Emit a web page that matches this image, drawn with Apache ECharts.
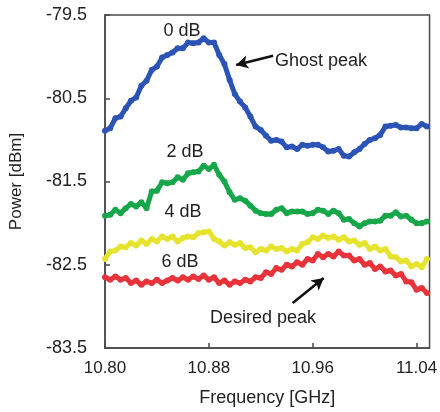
<!DOCTYPE html>
<html>
<head>
<meta charset="utf-8">
<script src="https://cdn.jsdelivr.net/npm/echarts@6/dist/echarts.min.js"></script>
<style>
  html, body { margin: 0; padding: 0; background: #fff; }
  #chart { width: 440px; height: 412px; }
</style>
</head>
<body>
<div id="chart"></div>
<script>
// frequency samples [GHz], step 0.004
const freqStart = 10.80
const freqStep = 0.004
const freqCount = 63
// measured power [dBm] for each attenuation
const power0dB = [-80.89, -80.86, -80.74, -80.72, -80.62, -80.53, -80.49, -80.35, -80.29, -80.16, -80.12, -80.01, -79.98, -79.95, -79.90, -79.90, -79.83, -79.84, -79.83, -79.78, -79.83, -79.83, -79.98, -80.09, -80.28, -80.45, -80.54, -80.61, -80.72, -80.84, -80.88, -80.95, -81.01, -81.00, -81.02, -81.09, -81.08, -81.11, -81.06, -81.07, -81.06, -81.06, -81.09, -81.14, -81.13, -81.11, -81.19, -81.20, -81.15, -81.11, -81.05, -81.00, -80.98, -80.94, -80.84, -80.83, -80.82, -80.85, -80.85, -80.86, -80.86, -80.81, -80.84]
const power2dB = [-81.91, -81.90, -81.84, -81.88, -81.82, -81.77, -81.80, -81.75, -81.82, -81.62, -81.61, -81.51, -81.52, -81.51, -81.45, -81.48, -81.40, -81.39, -81.38, -81.31, -81.35, -81.30, -81.42, -81.50, -81.63, -81.72, -81.70, -81.73, -81.79, -81.85, -81.88, -81.89, -81.89, -81.84, -81.82, -81.88, -81.86, -81.86, -81.86, -81.89, -81.88, -81.84, -81.85, -81.89, -81.85, -81.88, -81.96, -81.95, -82.00, -82.04, -82.00, -81.98, -81.98, -81.97, -81.91, -81.91, -81.87, -81.92, -81.91, -81.96, -82.00, -82.00, -81.98]
const power4dB = [-82.43, -82.34, -82.33, -82.28, -82.29, -82.24, -82.27, -82.21, -82.25, -82.19, -82.22, -82.16, -82.19, -82.16, -82.22, -82.18, -82.16, -82.17, -82.12, -82.11, -82.10, -82.19, -82.22, -82.27, -82.23, -82.26, -82.24, -82.30, -82.29, -82.35, -82.31, -82.33, -82.28, -82.31, -82.30, -82.34, -82.31, -82.33, -82.25, -82.23, -82.17, -82.19, -82.15, -82.18, -82.16, -82.20, -82.17, -82.22, -82.21, -82.26, -82.24, -82.31, -82.28, -82.33, -82.31, -82.40, -82.41, -82.46, -82.45, -82.52, -82.49, -82.53, -82.43]
const power6dB = [-82.65, -82.68, -82.64, -82.68, -82.66, -82.72, -82.69, -82.74, -82.70, -82.72, -82.68, -82.72, -82.69, -82.66, -82.69, -82.65, -82.68, -82.64, -82.67, -82.63, -82.68, -82.65, -82.72, -82.69, -82.74, -82.70, -82.72, -82.68, -82.70, -82.65, -82.66, -82.59, -82.61, -82.54, -82.56, -82.50, -82.52, -82.47, -82.50, -82.43, -82.45, -82.37, -82.41, -82.37, -82.40, -82.34, -82.39, -82.39, -82.45, -82.43, -82.50, -82.48, -82.55, -82.52, -82.58, -82.57, -82.63, -82.61, -82.70, -82.71, -82.80, -82.78, -82.84]
// arrows [freq, power]
const ghostArrow = [[10.9295, -79.99], [10.9010, -80.10]]
const desiredArrow = [[10.9446, -82.96], [10.9685, -82.66]]

let freqs = []
for (let i = 0; i < freqCount; i++) {
  freqs.push(+(freqStart + i * freqStep).toFixed(3))
}
function pairs (vals) {
  return vals.map((v, i) => [freqs[i], v])
}

const font = 'Liberation Sans, Arial, sans-serif'
const axisColor = '#4a4a4a'

function curve (name, vals, color) {
  return {
    name: name,
    type: 'line',
    data: pairs(vals),
    symbol: 'circle',
    symbolSize: 6,
    showAllSymbol: true,
    lineStyle: { color: color, width: 5 },
    itemStyle: { color: color },
    animation: false
  }
}

function arrow (coords) {
  return {
    silent: true,
    symbol: ['none', 'arrow'],
    symbolSize: [10, 12],
    label: { show: false },
    lineStyle: { color: '#111', width: 2.5, type: 'solid' },
    data: [[{ coord: coords[0] }, { coord: coords[1] }]]
  }
}

let s0 = curve('0 dB', power0dB, '#2c54b6')
s0.markLine = arrow(ghostArrow)
let s6 = curve('6 dB', power6dB, '#e8333a')
s6.markLine = arrow(desiredArrow)

function label (text, x, y, align) {
  return {
    type: 'text',
    x: x,
    y: y,
    style: { text: text, font: '18px ' + font, fill: '#222', align: align || 'center', verticalAlign: 'middle' }
  }
}

let option = {
  backgroundColor: '#fff',
  grid: {
    left: 100, right: 8, top: 15, bottom: 64,
    show: true, borderColor: axisColor, borderWidth: 1.5
  },
  xAxis: {
    type: 'value',
    min: 10.80,
    max: 11.05,
    interval: 0.08,
    name: 'Frequency [GHz]',
    nameLocation: 'middle',
    nameGap: 41,
    nameTextStyle: { fontFamily: font, fontSize: 18, color: '#222' },
    axisLine: { lineStyle: { color: axisColor, width: 1.5 } },
    axisTick: { inside: true, length: 5, lineStyle: { color: axisColor, width: 1.5 } },
    splitLine: { show: false },
    axisLabel: {
      fontFamily: font, fontSize: 17, color: '#222', margin: 12,
      formatter: v => v.toFixed(2),
      showMaxLabel: false
    }
  },
  yAxis: {
    type: 'value',
    min: -83.5,
    max: -79.5,
    interval: 1,
    name: 'Power [dBm]',
    nameLocation: 'middle',
    nameGap: 80,
    nameTextStyle: { fontFamily: font, fontSize: 17, color: '#222' },
    axisLine: { show: true, lineStyle: { color: axisColor, width: 1.5 } },
    axisTick: { show: true, inside: true, length: 5, lineStyle: { color: axisColor, width: 1.5 } },
    splitLine: { show: false },
    axisLabel: {
      fontFamily: font, fontSize: 18, color: '#222', margin: 18,
      formatter: v => v.toFixed(1)
    }
  },
  graphic: [
    label('0 dB', 182, 31),
    label('2 dB', 185, 152),
    label('4 dB', 183, 212),
    label('6 dB', 180, 262),
    label('Ghost peak', 275, 61, 'left'),
    label('Desired peak', 263, 318)
  ],
  series: [
    s0,
    curve('2 dB', power2dB, '#17a74a'),
    curve('4 dB', power4dB, '#e6e32e'),
    s6
  ]
}

echarts.init(document.getElementById('chart')).setOption(option)
</script>
</body>
</html>
